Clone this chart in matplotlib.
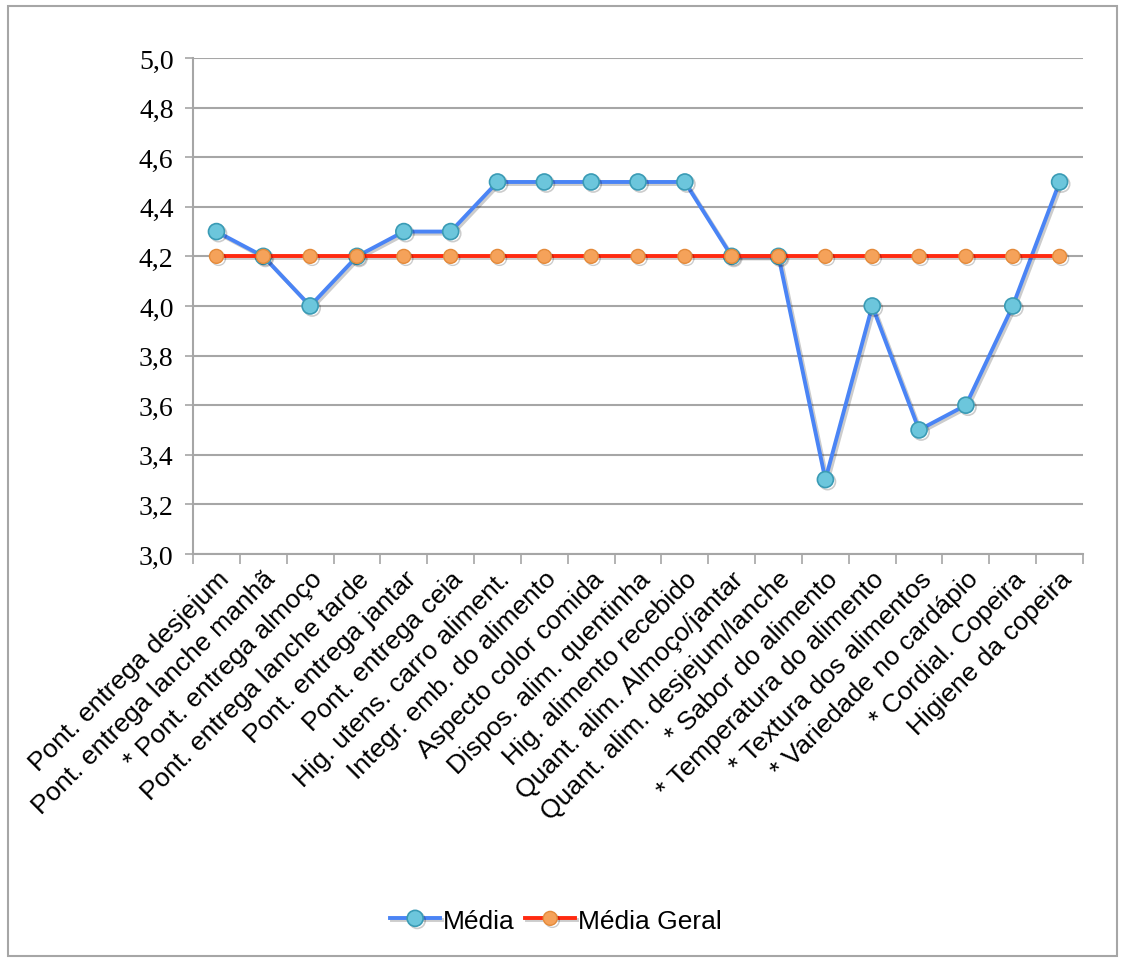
import matplotlib
matplotlib.use("Agg")
import matplotlib.pyplot as plt
import matplotlib.patheffects as pe
import numpy as np

categorias = [
    "Pont. entrega desjejum",
    "Pont. entrega lanche manhã",
    "* Pont. entrega almoço",
    "Pont. entrega lanche tarde",
    "Pont. entrega jantar",
    "Pont. entrega ceia",
    "Hig. utens. carro aliment.",
    "Integr. emb. do alimento",
    "Aspecto color comida",
    "Dispos. alim. quentinha",
    "Hig. alimento recebido",
    "Quant. alim. Almoço/jantar",
    "Quant. alim. desjejum/lanche",
    "* Sabor do alimento",
    "* Temperatura do alimento",
    "* Textura dos alimentos",
    "* Variedade no cardápio",
    "* Cordial. Copeira",
    "Higiene da copeira",
]
media = [4.3, 4.2, 4.0, 4.2, 4.3, 4.3, 4.5, 4.5, 4.5, 4.5, 4.5,
         4.2, 4.2, 3.3, 4.0, 3.5, 3.6, 4.0, 4.5]
media_geral = [4.2] * len(categorias)
y_ticks = [3.0, 3.2, 3.4, 3.6, 3.8, 4.0, 4.2, 4.4, 4.6, 4.8, 5.0]

fig = plt.figure(figsize=(11.23, 9.62), dpi=100)
ax = fig.add_axes([0.1719, 0.4231, 0.7925, 0.5156])

x = np.arange(len(categorias))
shadow = [pe.SimpleLineShadow(offset=(1.5, -1.5), shadow_color="#000000", alpha=0.2), pe.Normal()]

ax.plot(x, media, color="#4a84f5", lw=2.8, marker="o", markersize=11.5,
        markerfacecolor="#6cc6dc", markeredgecolor="#3a9bb5", markeredgewidth=1.2,
        label="Média", zorder=3, path_effects=shadow)
ax.plot(x, media_geral, color="#ff2a10", lw=2.8, marker="o", markersize=10,
        markerfacecolor="#f5a25a", markeredgecolor="#e48a3a", markeredgewidth=1.0,
        label="Média Geral", zorder=4, path_effects=shadow)

ax.set_xlim(-0.5, len(categorias) - 0.5)
ax.set_ylim(3.0, 5.0)
ax.set_yticks(y_ticks)
ax.set_yticklabels([f"{v:.1f}".replace(".", ",") for v in y_ticks],
                   fontfamily="Liberation Serif", fontsize=20)
ax.yaxis.grid(True, color="#a6a6a6", lw=1.5)
ax.set_axisbelow(True)

ax.set_xticks(x)
ax.set_xticklabels(categorias, rotation=45, ha="right", va="top",
                   rotation_mode="anchor", fontfamily="Liberation Sans", fontsize=19)
ax.tick_params(axis="x", length=0, pad=9)
ax.set_xticks(np.arange(-0.5, len(categorias), 1.0), minor=True)
ax.tick_params(axis="x", which="minor", length=7, color="#a6a6a6", width=1.2)
ax.tick_params(axis="y", length=6, color="#a6a6a6", width=1.2, pad=8)

for s in ["top", "right"]:
    ax.spines[s].set_visible(False)
for s in ["left", "bottom"]:
    ax.spines[s].set_color("#a6a6a6")
    ax.spines[s].set_linewidth(1.5)

leg = fig.legend(loc="center", bbox_to_anchor=(0.495, 0.042), ncol=2, frameon=False,
                 prop={"family": "Liberation Sans", "size": 19},
                 handlelength=1.9, handletextpad=0.1, columnspacing=0.4)

border = plt.Rectangle((0.007, 0.005), 0.988, 0.988, transform=fig.transFigure,
                       fill=False, edgecolor="#a6a6a6", lw=1.5)
fig.patches.append(border)

fig.savefig("out.png", dpi=100)
